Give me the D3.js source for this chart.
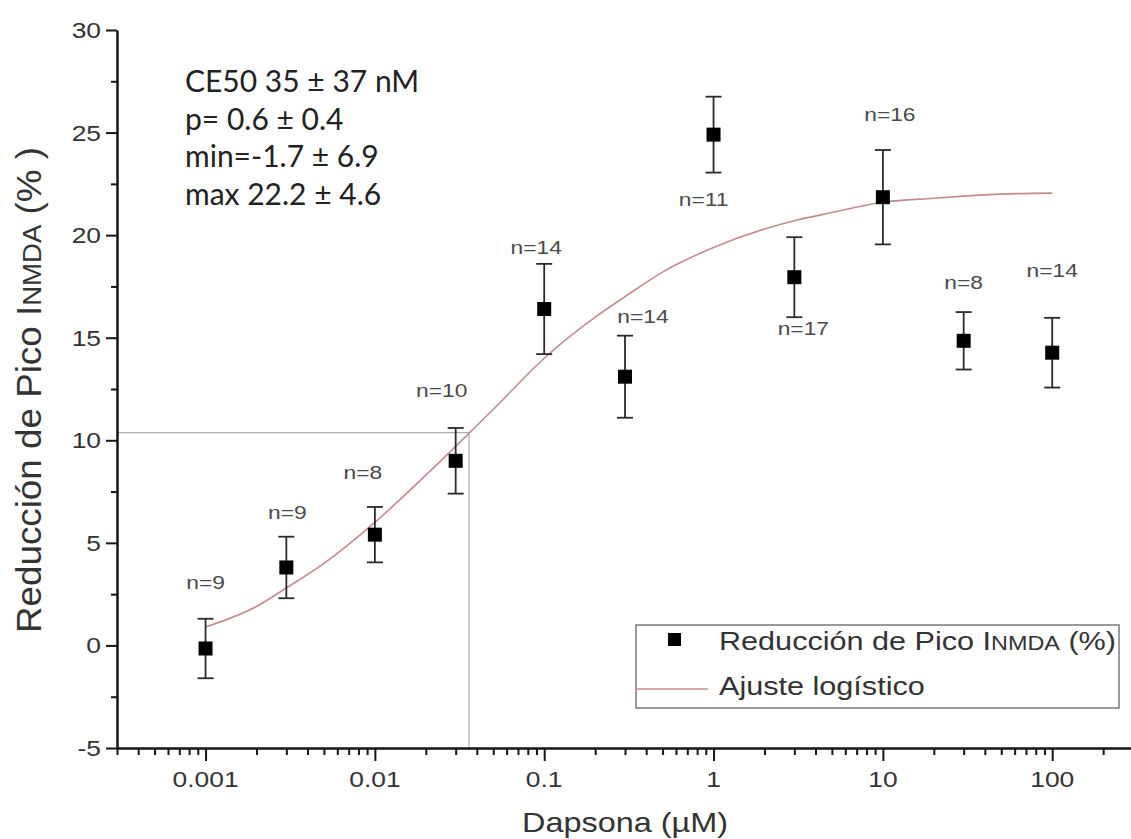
<!DOCTYPE html>
<html>
<head>
<meta charset="utf-8">
<script src="https://cdn.jsdelivr.net/npm/d3@7"></script>
<style>
  body { margin: 0; background: #fff; }
  text { font-family: "Liberation Sans", Arial, sans-serif; }
</style>
</head>
<body>
<div id="container"></div>
<script>
// Data
const concentrations = [0.001, 0.003, 0.01, 0.03, 0.1, 0.3, 1, 3, 10, 30, 100];
const reduction = [-0.15, 3.8, 5.4, 9.0, 16.4, 13.1, 24.9, 17.95, 21.85, 14.85, 14.27];
const errors = [1.45, 1.5, 1.35, 1.6, 2.2, 2.0, 1.85, 1.95, 2.3, 1.4, 1.7];
const nLabels = ["n=9", "n=9", "n=8", "n=10", "n=14", "n=14", "n=11", "n=17", "n=16", "n=8", "n=14"];

// logistic fit line, read at a few concentrations
const fitX = [0.001, 0.002, 0.003, 0.005, 0.01, 0.02, 0.03, 0.05, 0.1, 0.2, 0.3, 0.5, 1, 2, 3, 5, 10, 20, 30, 50, 100];
const fitY = [0.9, 1.9, 2.8, 4.0, 6.0, 8.3, 9.7, 11.5, 14.0, 16.0, 17.0, 18.2, 19.4, 20.3, 20.7, 21.1, 21.6, 21.8, 21.9, 22.0, 22.05];

const ec50 = 0.036, halfValue = 10.37;
const xTicks = [0.001, 0.01, 0.1, 1, 10, 100];
const xTickLabels = ["0.001", "0.01", "0.1", "1", "10", "100"];
const yTicks = [-5, 0, 5, 10, 15, 20, 25, 30];
const annotation = ["CE50 35 \u00b1 37 nM", "p= 0.6 \u00b1 0.4", "min=-1.7 \u00b1 6.9", "max 22.2 \u00b1 4.6"];

const draw = () => {
  const width = 1131, height = 839;
  const sx = 1.2; // the figure's text is stretched sideways

  const svg = d3.select("div#container").append("svg")
    .attr("width", width).attr("height", height);

  const x = d3.scaleLog().domain([0.0003, 300]).range([117, 1133]);
  const y = d3.scaleLinear().domain([-5, 30]).range([748, 30]);

  const label = (g, px, py, str, size, anchor, color) =>
    g.append("text")
      .attr("transform", `translate(${px},${py}) scale(${sx},1)`)
      .attr("text-anchor", anchor)
      .style("font-size", size + "px")
      .attr("fill", color)
      .text(str);

  // reference lines at the EC50
  svg.append("line")
    .attr("x1", x.range()[0]).attr("x2", x(ec50))
    .attr("y1", y(halfValue)).attr("y2", y(halfValue))
    .attr("stroke", "#9a9a9a").attr("stroke-width", 1);
  svg.append("line")
    .attr("x1", x(ec50)).attr("x2", x(ec50))
    .attr("y1", y(halfValue)).attr("y2", y(-5))
    .attr("stroke", "#9a9a9a").attr("stroke-width", 1);

  // minor ticks
  const xMinor = [];
  for (let e = -4; e <= 2; e++) {
    for (let m = 2; m <= 9; m++) {
      const v = m * Math.pow(10, e);
      if (v > 0.0003 && v < 300) xMinor.push(v);
    }
  }
  const yMinor = d3.range(-2.5, 30, 5);

  const xAxis = svg.append("g").attr("transform", `translate(0,${y(-5)})`);
  xAxis.call(d3.axisBottom(x).tickValues(xMinor).tickSize(7).tickSizeOuter(0).tickFormat(""));
  xAxis.append("g").call(d3.axisBottom(x).tickValues(xTicks).tickSize(13).tickFormat(""))
    .select(".domain").remove();
  xAxis.selectAll("path, line").attr("stroke", "#151515").attr("stroke-width", 2);
  xAxis.select(".domain").attr("stroke-width", 2.5);

  const yAxis = svg.append("g").attr("transform", `translate(${x.range()[0]},0)`);
  yAxis.call(d3.axisLeft(y).tickValues(yMinor).tickSize(6).tickSizeOuter(0).tickFormat(""));
  yAxis.append("g").call(d3.axisLeft(y).tickValues(yTicks).tickSize(11).tickFormat(""))
    .select(".domain").remove();
  yAxis.selectAll("path, line").attr("stroke", "#151515").attr("stroke-width", 2);
  yAxis.select(".domain").attr("stroke-width", 2.5);

  // tick labels
  xTicks.forEach((t, i) => label(svg, x(t), 787, xTickLabels[i], 22, "middle", "#333"));
  yTicks.forEach((t) => label(svg, 101, y(t) + 8, String(t), 22, "end", "#333"));

  // axis titles
  label(svg, 625, 832, "Dapsona (\u00b5M)", 27, "middle", "#333");
  const yt = svg.append("text")
    .attr("transform", `translate(41,390) rotate(-90) scale(1.15,1.1)`)
    .attr("text-anchor", "middle")
    .style("font-size", "32px")
    .attr("fill", "#333");
  yt.append("tspan").text("Reducci\u00f3n de Pico I");
  yt.append("tspan").style("font-size", "24px").text("NMDA");
  yt.append("tspan").text(" (% )");

  // fit line
  const line = d3.line().x((d, i) => x(fitX[i])).y((d) => y(d)).curve(d3.curveMonotoneX);
  svg.append("path")
    .attr("d", line(fitY))
    .attr("fill", "none")
    .attr("stroke", "#c48b8d")
    .attr("stroke-width", 1.6);

  // error bars
  const bars = svg.append("g").selectAll("g").data(concentrations).enter().append("g");
  bars.append("line")
    .attr("x1", (d) => x(d)).attr("x2", (d) => x(d))
    .attr("y1", (d, i) => y(reduction[i] + errors[i]))
    .attr("y2", (d, i) => y(reduction[i] - errors[i]));
  bars.append("line")
    .attr("x1", (d) => x(d) - 8).attr("x2", (d) => x(d) + 8)
    .attr("y1", (d, i) => y(reduction[i] + errors[i]))
    .attr("y2", (d, i) => y(reduction[i] + errors[i]));
  bars.append("line")
    .attr("x1", (d) => x(d) - 8).attr("x2", (d) => x(d) + 8)
    .attr("y1", (d, i) => y(reduction[i] - errors[i]))
    .attr("y2", (d, i) => y(reduction[i] - errors[i]));
  bars.selectAll("line").attr("stroke", "#2a2a2a").attr("stroke-width", 1.8);

  // points
  svg.append("g").selectAll("rect").data(concentrations).enter().append("rect")
    .attr("x", (d) => x(d) - 7)
    .attr("y", (d, i) => y(reduction[i]) - 7)
    .attr("width", 14).attr("height", 14)
    .attr("fill", "#000");

  // n labels, offsets from each point in px
  const labelOffset = [[0, -60], [1, -48], [-12, -56], [-14, -64], [-8, -55], [18, -54],
    [-10, 71], [9, 58], [7, -76], [0, -52], [0, -76]];
  nLabels.forEach((n, i) => {
    const [dx, dy] = labelOffset[i];
    label(svg, x(concentrations[i]) + dx, y(reduction[i]) + dy, n, 19, "middle", "#4a4a4a");
  });

  // fit parameters
  annotation.forEach((s, i) => {
    svg.append("text")
      .attr("x", 185).attr("y", 92 + i * 37.7)
      .style("font-family", "Lato, 'Open Sans', sans-serif")
      .style("font-size", "30px")
      .attr("fill", "#222")
      .text(s);
  });

  // legend
  const lg = svg.append("g");
  lg.append("rect")
    .attr("x", 636).attr("y", 625).attr("width", 483).attr("height", 83)
    .attr("fill", "#fff").attr("stroke", "#7a7a7a").attr("stroke-width", 1.5);
  lg.append("rect").attr("x", 668).attr("y", 633).attr("width", 13).attr("height", 13).attr("fill", "#000");
  const lt = lg.append("text")
    .attr("transform", `translate(719,650) scale(${sx},1)`)
    .style("font-size", "25.5px").attr("fill", "#333");
  lt.append("tspan").text("Reducci\u00f3n de Pico I");
  lt.append("tspan").style("font-size", "19.5px").text("NMDA");
  lt.append("tspan").text(" (%)");
  lg.append("line")
    .attr("x1", 636).attr("x2", 708).attr("y1", 689).attr("y2", 689)
    .attr("stroke", "#c48b8d").attr("stroke-width", 1.6);
  label(lg, 719, 695, "Ajuste log\u00edstico", 25.5, "start", "#333");
};

draw();
</script>
</body>
</html>
